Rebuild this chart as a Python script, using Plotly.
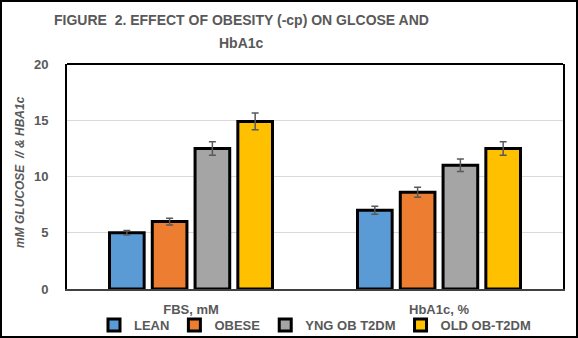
import plotly.graph_objects as go

categories = ["FBS, mM", "HbA1c, %"]
series_names = ["LEAN", "OBESE", "YNG OB T2DM", "OLD OB-T2DM"]
lean = [5.0, 7.0]
obese = [6.0, 8.6]
yng = [12.5, 11.0]
old = [14.9, 12.5]
lean_err = [0.2, 0.35]
obese_err = [0.3, 0.45]
yng_err = [0.6, 0.55]
old_err = [0.75, 0.6]
y_ticks = [0, 5, 10, 15, 20]
title_lines = ["FIGURE  2. EFFECT OF OBESITY (-cp) ON GLCOSE AND", "HbA1c"]

colors = ["#5B9BD5", "#ED7D31", "#A5A5A5", "#FFC000"]
values = [lean, obese, yng, old]
errors = [lean_err, obese_err, yng_err, old_err]

GRAY = "#595959"
FONT = "Liberation Sans"

fig = go.Figure()
for name, vals, errs, col in zip(series_names, values, errors, colors):
    fig.add_trace(go.Bar(
        name=name, x=categories, y=vals,
        marker=dict(color=col, line=dict(color="black", width=3)),
        error_y=dict(type="data", array=errs, visible=True, color=GRAY, thickness=1.5, width=3.5),
    ))

L, R, T, B = 67, 15, 64, 49
W, H = 578, 338
pw, ph = W - L - R, H - T - B


def px_x(x):
    return (x - L) / pw


def px_y(y):
    return (H - B - y) / ph


annotations = [dict(
    text="<i>mM GLUCOSE  // & HBA1c</i>",
    xref="paper", yref="paper", x=px_x(20), y=px_y(172),
    xanchor="center", yanchor="middle", textangle=-90, showarrow=False,
    font=dict(family=FONT, size=12, color=GRAY, weight="bold"),
)]
for line, ycen in zip(title_lines, [20, 43]):
    annotations.append(dict(
        text=line, xref="paper", yref="paper", x=px_x(241), y=px_y(ycen),
        xanchor="center", yanchor="middle", showarrow=False,
        font=dict(family=FONT, size=14, color=GRAY, weight="bold"),
    ))

fig.update_layout(
    width=W, height=H,
    margin=dict(l=L, r=R, t=T, b=B, autoexpand=False),
    paper_bgcolor="white", plot_bgcolor="white",
    barmode="group", bargap=0.31, bargroupgap=0.19,
    font=dict(family=FONT, color=GRAY, size=13, weight="bold"),
    showlegend=True,
    legend=dict(
        orientation="h", x=0.5, xanchor="center", y=px_y(325), yanchor="middle",
        font=dict(family=FONT, size=13, color=GRAY, weight="bold"),
        bgcolor="rgba(0,0,0,0)", itemwidth=30, tracegroupgap=0,
    ),
    xaxis=dict(
        showline=True, linecolor="#404040", linewidth=1.5,
        showgrid=False, ticks="", ticklabelstandoff=8,
        tickfont=dict(family=FONT, size=13, color=GRAY, weight="bold"),
    ),
    yaxis=dict(
        range=[0, 20], tickvals=y_ticks, showgrid=True, gridcolor="#D9D9D9", gridwidth=1,
        showline=True, mirror=True, linecolor="black", linewidth=2,
        zeroline=False, ticks="", ticklabelstandoff=14,
        tickfont=dict(family=FONT, size=13, color=GRAY, weight="bold"),
    ),
    annotations=annotations,
    shapes=[
        dict(type="line", xref="paper", yref="paper", x0=0, x1=1, y0=1, y1=1,
             line=dict(color="black", width=2)),
        dict(type="rect", xref="paper", yref="paper",
             x0=px_x(1), x1=px_x(W - 1),
             y0=px_y(H - 1), y1=px_y(1),
             line=dict(color="black", width=2)),
    ],
)

fig.write_html("out.html")
